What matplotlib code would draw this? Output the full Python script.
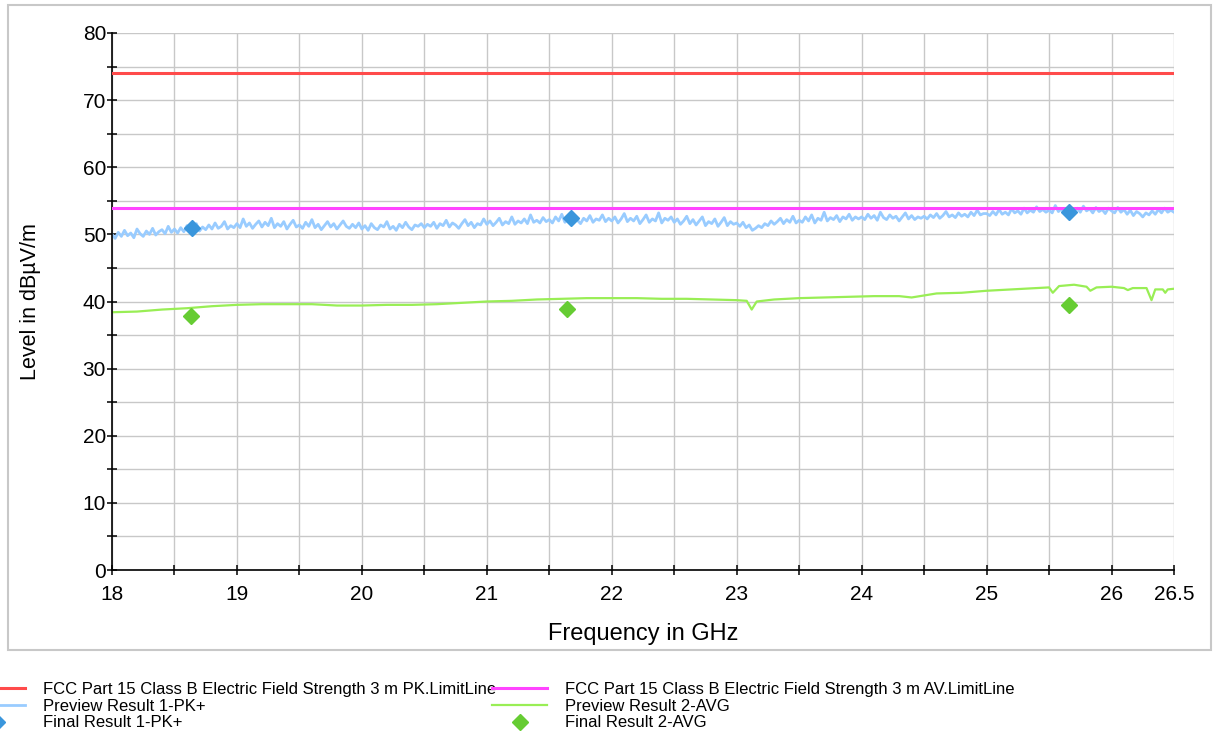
import numpy as np
import matplotlib
matplotlib.use("Agg")
import matplotlib.pyplot as plt
from matplotlib.patches import Rectangle

plt.rcParams['font.family'] = ['Liberation Sans', 'DejaVu Sans']

# limit lines (dBuV/m)
pk_limit = 74.0
av_limit = 54.0

# preview peak trace, 18.0 .. 26.5 GHz in 0.025 GHz steps
pk_start, pk_step = 18.0, 0.025
pk_trace = [
    50.0, 49.4, 50.3, 49.7, 50.6, 49.8, 50.2, 49.5, 50.8, 50.1, 49.7, 50.5, 50.0, 50.9, 49.9, 50.4, 50.7, 50.1, 51.2, 50.3,
    50.8, 50.2, 51.0, 50.4, 51.3, 50.6, 50.9, 51.6, 50.5, 51.1, 50.7, 51.4, 50.8, 51.7, 50.9, 51.2, 51.9, 50.8, 51.3, 51.0,
    51.6, 51.0, 52.3, 51.2, 51.7, 50.9, 51.5, 52.0, 51.1, 51.8, 51.3, 52.4, 51.0, 51.6, 51.2, 51.9, 50.8, 51.5, 52.1, 51.1,
    51.4, 50.9, 51.8, 51.2, 52.2, 51.0, 51.5, 50.7, 51.3, 51.9, 51.1, 51.6, 50.8, 51.4, 52.0, 51.2, 50.9, 51.5, 51.0, 51.7,
    50.8, 51.3, 50.6, 51.6, 51.0, 50.7, 51.4, 51.1, 51.9, 50.8, 51.2, 50.6, 51.5, 51.0, 51.8, 51.1, 50.7, 51.4, 51.2, 51.6,
    51.0, 51.5, 51.2, 51.8, 50.9, 51.6, 51.3, 52.1, 51.1, 51.7, 51.4, 50.9, 51.6, 52.2, 51.3, 51.8, 51.0, 51.6, 51.4, 52.3,
    51.5, 52.0, 51.3, 51.8, 52.4, 51.4, 51.9, 51.6, 52.6, 51.5, 52.0, 51.7, 52.3, 51.6, 52.9, 51.8, 52.1, 51.7, 52.5, 51.9,
    52.2, 51.7, 52.6, 52.0, 53.0, 51.8, 52.3, 51.9, 52.7, 52.1, 51.6, 52.4, 52.0, 52.8, 51.8, 52.3, 52.1, 52.9, 51.9, 52.4,
    52.0, 52.6, 51.7, 52.3, 53.1, 51.9, 52.4, 52.0, 52.7, 51.6, 52.2, 52.9, 51.8, 52.3, 52.0, 53.2, 51.7, 52.4, 52.1, 52.6,
    51.8, 52.3, 51.5, 52.0, 52.7, 51.6, 52.2, 51.4, 52.0, 52.6, 51.3, 51.9, 51.6, 52.3, 51.2, 51.8, 52.5, 51.3, 51.9, 51.5,
    51.7, 51.2, 51.8, 51.0, 51.4, 50.6, 50.9, 51.3, 51.0, 51.6, 51.3, 52.0, 51.5, 51.9, 52.4, 51.6, 52.2, 51.8, 52.7, 51.7,
    52.1, 51.8, 52.6, 52.0, 52.9, 51.7, 52.4, 52.1, 53.3, 52.0, 52.5, 52.2, 52.8, 51.9, 52.6, 52.3, 53.0, 52.1, 52.6, 52.3,
    52.6, 52.2, 53.0, 52.4, 52.8, 52.1, 53.3, 52.5, 52.2, 52.9, 52.4, 52.7, 52.0, 52.6, 53.2, 52.3, 52.8, 52.2, 52.6, 52.4,
    52.7, 52.3, 52.9, 52.5, 53.1, 52.4, 52.8, 53.4, 52.6, 52.9, 52.5, 53.2, 52.7, 53.0, 52.6, 53.3, 52.8, 53.6, 52.9, 53.1,
    53.1, 52.8, 53.4, 52.9, 53.7, 53.0, 53.3, 52.9, 53.8, 53.2, 53.5, 53.0, 53.9, 53.2, 53.6, 53.3, 54.1, 53.4, 53.7, 53.3,
    53.6, 53.2, 54.3, 53.4, 53.8, 53.1, 53.7, 52.7, 53.5, 53.9, 53.3, 54.2, 53.5, 53.8, 53.2, 54.0, 53.4, 53.7, 53.1, 53.9,
    53.5, 53.2, 54.0, 53.3, 53.7, 53.0, 53.6, 52.8, 53.4, 53.1, 52.6, 53.2, 52.9, 53.5, 53.0, 53.7, 53.2, 53.9, 53.3, 53.6,
    53.3,
]
pk_freq = pk_start + pk_step * np.arange(len(pk_trace))

# preview average trace
avg_freq = [18.0, 18.2, 18.4, 18.6, 18.8, 19.0, 19.2, 19.4, 19.6, 19.8, 20.0, 20.2, 20.4, 20.6, 20.8,
            21.0, 21.2, 21.4, 21.6, 21.8, 22.0, 22.2, 22.4, 22.6, 22.8, 23.0, 23.08, 23.12, 23.16, 23.3,
            23.5, 23.7, 23.9, 24.1, 24.3, 24.4, 24.5, 24.6, 24.8, 25.0, 25.2, 25.4, 25.5, 25.53, 25.58,
            25.7, 25.8, 25.83, 25.88, 26.0, 26.1, 26.13, 26.17, 26.28, 26.32, 26.35, 26.41, 26.43, 26.45, 26.5]
avg_trace = [38.4, 38.5, 38.8, 39.0, 39.3, 39.5, 39.6, 39.6, 39.6, 39.4, 39.4, 39.5, 39.5, 39.6, 39.8,
             40.0, 40.1, 40.3, 40.4, 40.5, 40.5, 40.5, 40.4, 40.4, 40.3, 40.2, 40.1, 38.8, 40.0, 40.3,
             40.5, 40.6, 40.7, 40.8, 40.8, 40.6, 40.9, 41.2, 41.3, 41.6, 41.8, 42.0, 42.1, 41.3, 42.3,
             42.5, 42.2, 41.6, 42.1, 42.2, 42.0, 41.7, 42.0, 42.0, 40.2, 41.8, 41.8, 41.3, 41.8, 41.9]

# final measurements
final_pk_freq = [18.64, 21.67, 25.66]
final_pk_level = [50.9, 52.4, 53.3]
final_avg_freq = [18.63, 21.64, 25.66]
final_avg_level = [37.8, 38.9, 39.5]

fig = plt.figure(figsize=(12.14, 7.40), dpi=100)
fig.patches.append(Rectangle((8 / 1214, 90 / 740), 1203 / 1214, 645 / 740,
                             transform=fig.transFigure, fill=False,
                             edgecolor='#c8c8c8', linewidth=1.5))
ax = fig.add_axes([112 / 1214, 170 / 740, 1062 / 1214, 537 / 740])

h1 = ax.axhline(pk_limit, color='#ff4b4b', linewidth=2.2, zorder=3,
                label='FCC Part 15 Class B Electric Field Strength 3 m PK.LimitLine')
h2, = ax.plot(pk_freq, pk_trace, color='#99ccff', linewidth=2.0, zorder=2,
              label='Preview Result 1-PK+')
h3, = ax.plot(final_pk_freq, final_pk_level, linestyle='none', marker='D', markersize=8.3,
              color='#3a96dc', zorder=5, label='Final Result 1-PK+')
h4 = ax.axhline(av_limit, color='#ff44ff', linewidth=2.2, zorder=3,
                label='FCC Part 15 Class B Electric Field Strength 3 m AV.LimitLine')
h5, = ax.plot(avg_freq, avg_trace, color='#99ee55', linewidth=1.6, zorder=2,
              label='Preview Result 2-AVG')
h6, = ax.plot(final_avg_freq, final_avg_level, linestyle='none', marker='D', markersize=8.3,
              color='#66cc33', zorder=5, label='Final Result 2-AVG')

ax.set_xlim(18, 26.5)
ax.set_ylim(0, 80)
ax.set_xticks([18, 19, 20, 21, 22, 23, 24, 25, 26, 26.5])
ax.set_xticklabels(['18', '19', '20', '21', '22', '23', '24', '25', '26', '26.5'])
ax.set_xticks(np.arange(18.5, 26, 1.0), minor=True)
ax.set_yticks(np.arange(0, 81, 10))
ax.set_yticks(np.arange(5, 80, 10), minor=True)
ax.grid(True, which='both', color='#c8c8c8', linewidth=1.0, zorder=0)
ax.set_axisbelow(True)

for s in ['top', 'right']:
    ax.spines[s].set_visible(False)
for s in ['left', 'bottom']:
    ax.spines[s].set_linewidth(1.2)
ax.tick_params(which='both', direction='inout', length=7.5, width=1.1, labelsize=15)
ax.tick_params(axis='x', pad=7)
ax.tick_params(axis='y', pad=0.5)

ax.set_xlabel('Frequency in GHz', fontsize=17, labelpad=14)
ax.set_ylabel('Level in dBµV/m', fontsize=15.5, labelpad=30)

fs = 12
kw = dict(loc='upper left', frameon=False, fontsize=fs, handlelength=3.3,
          handletextpad=1.1, labelspacing=0.1, borderpad=0, borderaxespad=0)
fig.legend(handles=[h1, h2, h3], bbox_to_anchor=(-30 / 1214, 1 - 682 / 740), **kw)
fig.legend(handles=[h4, h5, h6], bbox_to_anchor=(492 / 1214, 1 - 682 / 740), **kw)

fig.savefig('out.png', dpi=100)
